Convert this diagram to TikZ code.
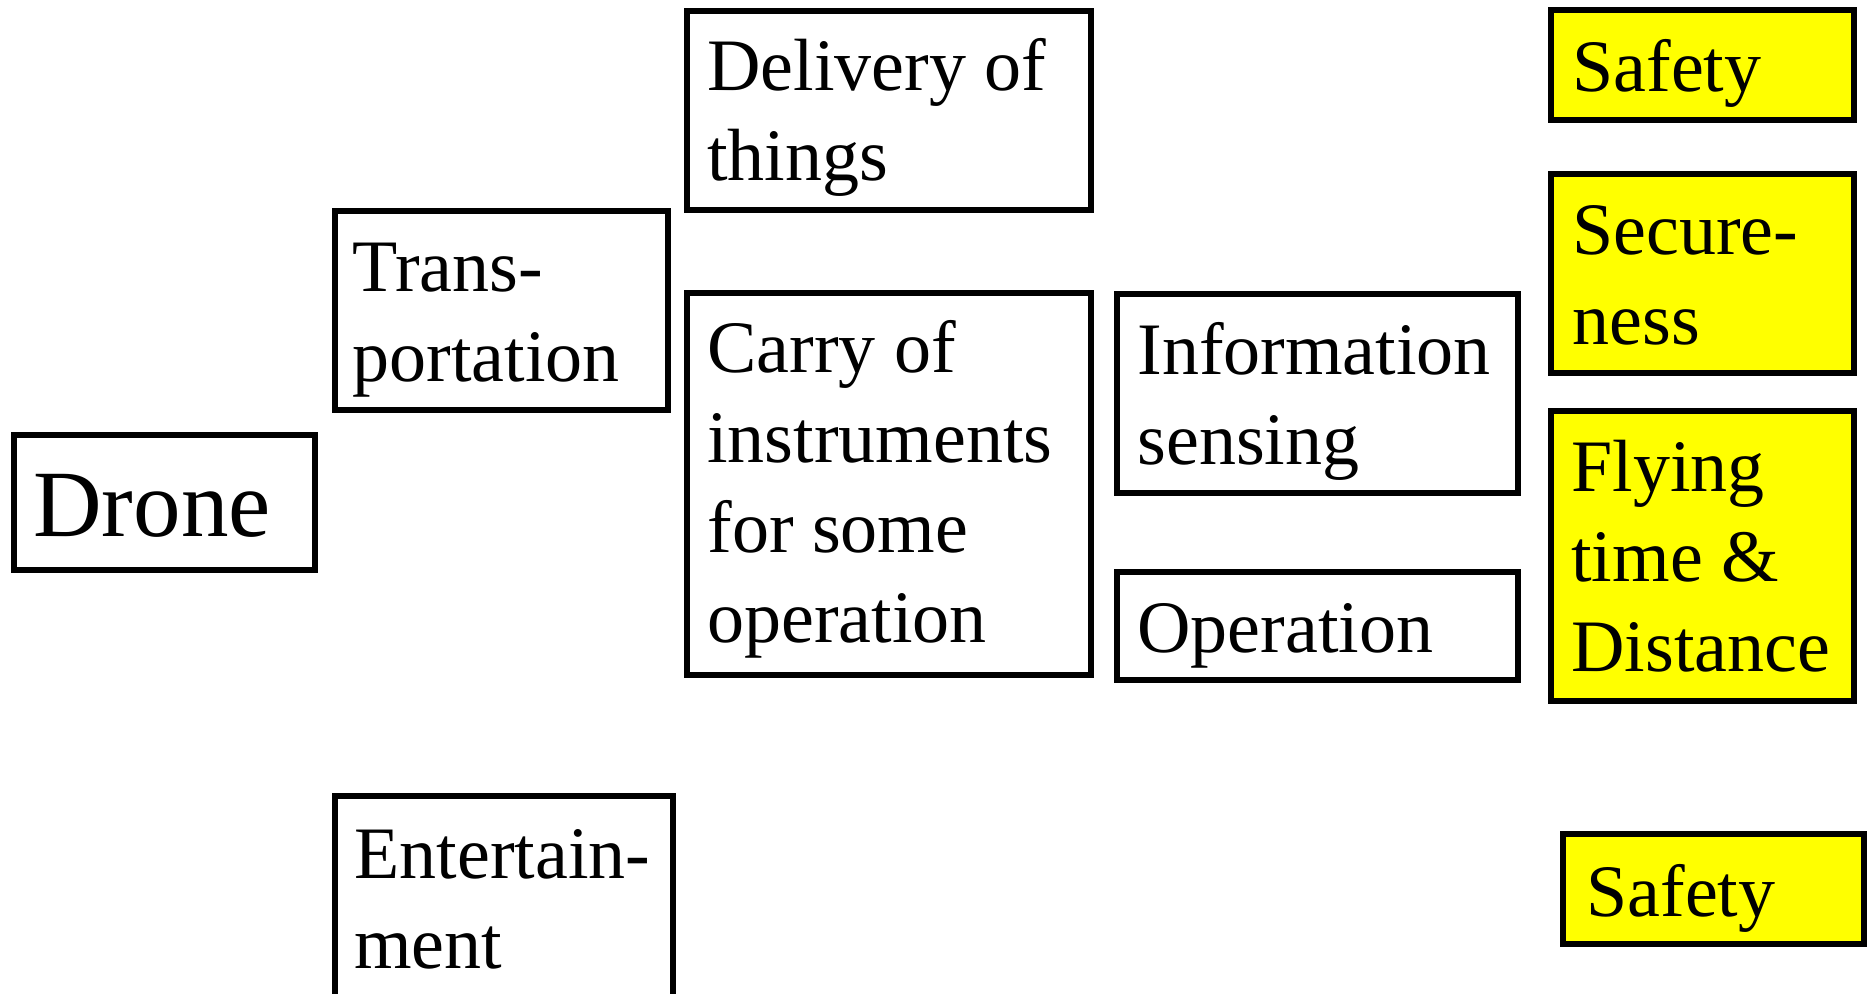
\documentclass[tikz,border=0pt]{standalone}
\usepackage{fontspec}
\setmainfont{Liberation Serif}
\usetikzlibrary{fit}
\definecolor{hiyellow}{RGB}{255,255,0}
\begin{document}
\begin{tikzpicture}[x=0.5pt,y=-0.5pt,
  box/.style={draw=black,line width=2.8pt,inner sep=0pt,fill=white},
  ybox/.style={box,fill=hiyellow},
  txt/.style={inner sep=0pt,anchor=base west,font=\fontsize{37}{45}\selectfont},
  bigtxt/.style={inner sep=0pt,anchor=base west,font=\fontsize{47.5}{55}\selectfont}]
\clip (0,0) rectangle (1869,994);
\fill[white] (0,0) rectangle (1869,994);
% boxes (centre lines of the borders)
\node[box, fit={(13.8,434.8) (315.2,570.2)}] (drone) {};
\node[box, fit={(334.8,210.8) (668.2,410.2)}] (trans) {};
\node[box, fit={(334.8,795.8) (673.2,1010)}] (ent) {};
\node[box, fit={(686.8,10.8) (1091.2,210.2)}] (deliv) {};
\node[box, fit={(686.8,292.8) (1091.2,675.2)}] (carry) {};
\node[box, fit={(1116.8,293.8) (1518.2,493.2)}] (info) {};
\node[box, fit={(1116.8,571.8) (1518.2,680.2)}] (oper) {};
\node[ybox, fit={(1550.8,9.8) (1854.2,120.2)}] (safeA) {};
\node[ybox, fit={(1550.8,173.8) (1854.2,373.2)}] (secure) {};
\node[ybox, fit={(1550.8,410.8) (1854.2,701.2)}] (fly) {};
\node[ybox, fit={(1562.8,833.8) (1864.2,944.2)}] (safeB) {};
% texts
\node[bigtxt] (droneT) at (33,537) {Drone};
\node[txt] (transT) at (352,292) {\vtop{\hbox{Trans-}\hbox{portation}}};
\node[txt] (entT) at (354,878) {\vtop{\hbox{Entertain-}\hbox{ment}}};
\node[txt] (delivT) at (707,91) {\vtop{\hbox{Delivery of}\hbox{things}}};
\node[txt] (carryT) at (707,373) {\vtop{\hbox{Carry of}\hbox{instruments}\hbox{for some}\hbox{operation}}};
\node[txt] (infoT) at (1137,375) {\vtop{\hbox{Information}\hbox{sensing}}};
\node[txt] (operT) at (1137,652) {Operation};
\node[txt] (safeAT) at (1572,92) {Safety};
\node[txt] (secureT) at (1572,255) {\vtop{\hbox{Secure-}\hbox{ness}}};
\node[txt] (flyT) at (1571,492) {\vtop{\hbox{Flying}\hbox{time \&}\hbox{Distance}}};
\node[txt] (safeBT) at (1586,916) {Safety};
\end{tikzpicture}
\end{document}
